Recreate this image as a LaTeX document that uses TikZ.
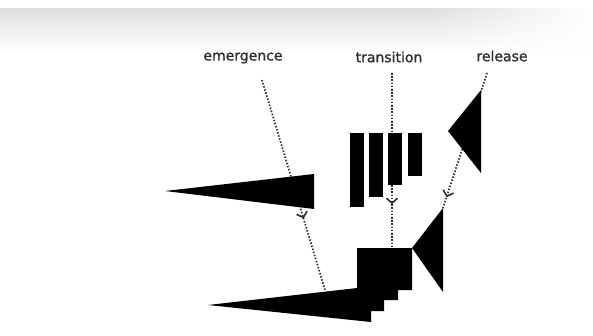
\documentclass[tikz,border=0pt]{standalone}
\usepackage{fontspec}
\setsansfont[FakeBold=1.2]{DejaVu Sans}
\usetikzlibrary{arrows.meta, decorations.markings, fadings}
\definecolor{lblgray}{RGB}{45,45,45}
\tikzset{
  phase/.style={font=\sffamily\fontsize{14}{16}\selectfont, text=lblgray, inner sep=1pt},
  guide/.style={lblgray, line width=1.7pt, dash pattern=on 1.5pt off 1.7pt},
  midtip/.style={postaction={decorate, decoration={markings,
      mark=at position #1 with {\arrow[solid, line width=1.6pt]{Straight Barb[length=5pt, width=11pt]}}}}},
}

\begin{document}
\begin{tikzpicture}[x=1pt, y=-1pt]
    \useasboundingbox (0,0) rectangle (593,335);

    % faded banner at the top
    \shade[top color=gray!25, bottom color=white] (0,8) rectangle (593,52);
    \fill[white, path fading=west] (430,0) rectangle (593,56);

    % phase labels
    \node[phase] (emergence) at (243,58) {emergence};
    \node[phase] (transition) at (389,57) {transition};
    \node[phase] (release) at (502,56) {release};

    % ends of the guide lines
    \coordinate (em from) at (262,80);
    \coordinate (em to) at (325,290);
    \coordinate (tr from) at (392,73);
    \coordinate (tr to) at (392,248);
    \coordinate (re from) at (487,73);
    \coordinate (re to) at (443,208);

    \draw[guide, midtip=0.66] (em from) -- (em to);
    \draw[guide, midtip=0.75] (tr from) -- (tr to);
    \draw[guide, midtip=0.92] (re from) -- (re to);

    % emergence wedge
    \fill (165,191) -- (314,174) -- (314,209) -- cycle;

    % transition bars
    \foreach \x/\b in {350/207, 369/197, 388/185, 408/176}
        \fill (\x,133) rectangle (\x+14,\b);

    % release wedge
    \fill (448,131) -- (481,90) -- (481,173) -- cycle;

    % combined form
    \fill (208,305) -- (357,288) -- (357,248) -- (412,248) -- (412,290)
        -- (398,290) -- (398,300) -- (384,300) -- (384,311) -- (371,311)
        -- (371,322) -- cycle;
    \fill (412,248) -- (443,208) -- (443,292) -- cycle;
\end{tikzpicture}
\end{document}
